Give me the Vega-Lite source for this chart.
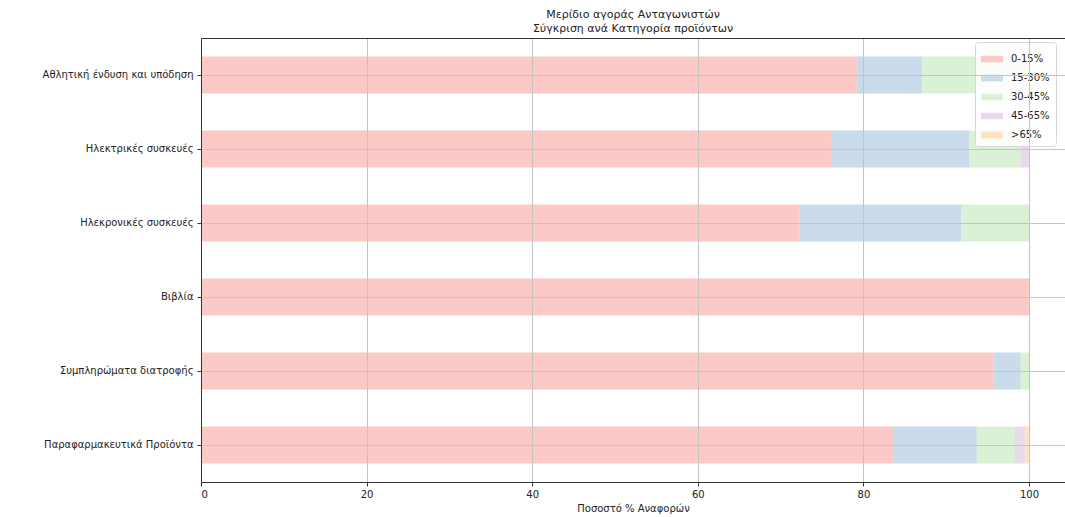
{
  "$schema": "https://vega.github.io/schema/vega-lite/v6.json",
  "autosize": {"type": "none"},
  "width": 864,
  "height": 444,
  "padding": {"left": 201, "top": 38, "right": 0, "bottom": 35},
  "background": "white",
  "config": {
    "font": "DejaVu Sans",
    "view": {"stroke": null},
    "axis": {
      "labelFont": "DejaVu Sans",
      "titleFont": "DejaVu Sans",
      "labelColor": "#222222",
      "titleColor": "#222222",
      "labelFontSize": 10,
      "titleFontSize": 10,
      "titleFontWeight": "normal",
      "domainColor": "#333333",
      "tickColor": "#333333",
      "gridColor": "#c4c4c4",
      "gridWidth": 1
    }
  },
  "title": {
    "text": ["Μερίδιο αγοράς Ανταγωνιστών", "Σύγκριση ανά Κατηγορία προϊόντων"],
    "font": "DejaVu Sans",
    "fontSize": 11,
    "fontWeight": "normal",
    "color": "#222222",
    "anchor": "middle",
    "offset": 4,
    "lineHeight": 14
  },
  "data": {
    "values": [
      {"category": "Αθλητική ένδυση και υπόδηση", "band": "0-15%", "pct": 79.2},
      {"category": "Αθλητική ένδυση και υπόδηση", "band": "15-30%", "pct": 7.9},
      {"category": "Αθλητική ένδυση και υπόδηση", "band": "30-45%", "pct": 12.9},
      {"category": "Ηλεκτρικές συσκευές", "band": "0-15%", "pct": 76.1},
      {"category": "Ηλεκτρικές συσκευές", "band": "15-30%", "pct": 16.7},
      {"category": "Ηλεκτρικές συσκευές", "band": "30-45%", "pct": 6.2},
      {"category": "Ηλεκτρικές συσκευές", "band": "45-65%", "pct": 1.0},
      {"category": "Ηλεκρονικές συσκευές", "band": "0-15%", "pct": 72.3},
      {"category": "Ηλεκρονικές συσκευές", "band": "15-30%", "pct": 19.5},
      {"category": "Ηλεκρονικές συσκευές", "band": "30-45%", "pct": 8.2},
      {"category": "Βιβλία", "band": "0-15%", "pct": 100.0},
      {"category": "Συμπληρώματα διατροφής", "band": "0-15%", "pct": 95.7},
      {"category": "Συμπληρώματα διατροφής", "band": "15-30%", "pct": 3.3},
      {"category": "Συμπληρώματα διατροφής", "band": "30-45%", "pct": 1.0},
      {"category": "Παραφαρμακευτικά Προϊόντα", "band": "0-15%", "pct": 83.7},
      {"category": "Παραφαρμακευτικά Προϊόντα", "band": "15-30%", "pct": 10.0},
      {"category": "Παραφαρμακευτικά Προϊόντα", "band": "30-45%", "pct": 4.6},
      {"category": "Παραφαρμακευτικά Προϊόντα", "band": "45-65%", "pct": 1.2},
      {"category": "Παραφαρμακευτικά Προϊόντα", "band": ">65%", "pct": 0.5}
    ]
  },
  "encoding": {
    "y": {
      "field": "category",
      "type": "nominal",
      "sort": null,
      "scale": {"paddingInner": 0.5, "paddingOuter": 0.25},
      "axis": {
        "title": null,
        "grid": true,
        "bandPosition": 0.5,
        "tickBand": "center",
        "tickSize": 4,
        "labelPadding": 4,
        "zindex": 1
      }
    }
  },
  "layer": [
    {
      "mark": {"type": "bar", "opacity": 0.7},
      "encoding": {
        "x": {
          "field": "pct",
          "type": "quantitative",
          "stack": "zero",
          "scale": {"domain": [0, 104.35], "nice": false},
          "axis": {
            "title": "Ποσοστό % Αναφορών",
            "orient": "bottom",
            "values": [0, 20, 40, 60, 80, 100],
            "format": "d",
            "grid": true,
            "tickSize": 4,
            "labelPadding": 3,
            "titlePadding": 4,
            "zindex": 1
          }
        },
        "color": {
          "field": "band",
          "type": "nominal",
          "scale": {
            "domain": ["0-15%", "15-30%", "30-45%", "45-65%", ">65%"],
            "range": ["#fbb4ae", "#b3cde3", "#ccebc5", "#decbe4", "#fed9a6"]
          },
          "legend": {
            "title": null,
            "orient": "none",
            "legendX": 774,
            "legendY": 4,
            "padding": 6,
            "fillColor": "rgba(255,255,255,0.85)",
            "strokeColor": "#d8d8d8",
            "cornerRadius": 3,
            "symbolType": "M-1,-0.3H1V0.3H-1Z",
            "symbolSize": 484,
            "symbolOpacity": 0.7,
            "symbolStrokeWidth": 0,
            "labelFont": "DejaVu Sans",
            "labelFontSize": 10,
            "labelColor": "#222222",
            "labelOffset": 8,
            "rowPadding": 3
          }
        },
        "order": {"field": "band", "sort": "ascending"}
      }
    },
    {
      "mark": {"type": "bar", "opacity": 0},
      "encoding": {
        "x": {
          "field": "pct",
          "type": "quantitative",
          "stack": "zero",
          "axis": {
            "title": null,
            "orient": "top",
            "labels": false,
            "ticks": false,
            "grid": false,
            "domain": true,
            "zindex": 1
          }
        }
      }
    }
  ],
  "resolve": {"axis": {"x": "independent"}}
}
